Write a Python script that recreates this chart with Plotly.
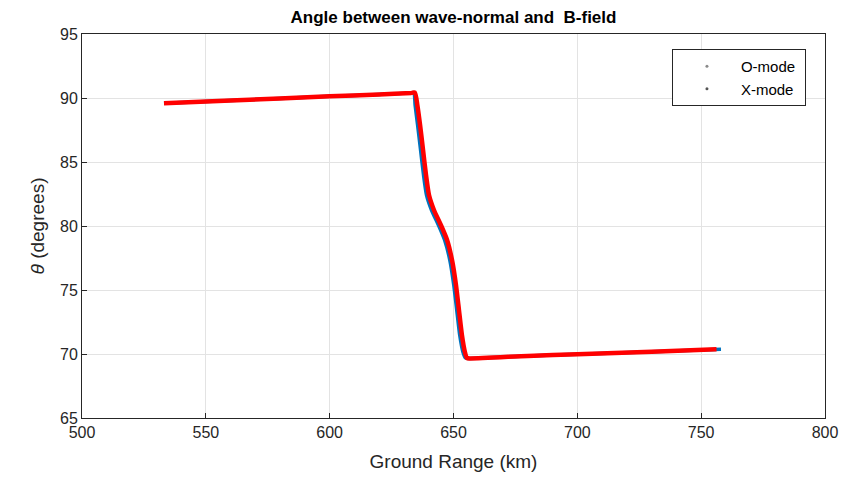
import plotly.graph_objects as go

# X-mode (red) ground range (km) and angle (deg)
xmode_range = [533.1, 560.0, 600.0, 620.0, 633.0, 634.4, 635.4, 636.5, 637.7, 638.9, 640.1,
               642.1, 644.9, 647.4, 649.4, 651.0, 652.2, 653.4, 654.6, 655.4,
               656.6, 680.0, 700.0, 730.0, 756.2]
xmode_theta = [89.59, 89.80, 90.13, 90.28, 90.40, 90.43, 89.45, 87.89, 85.94, 83.98, 82.42,
               81.25, 80.08, 78.91, 77.34, 75.39, 73.44, 71.48, 70.16, 69.69,
               69.65, 69.85, 69.98, 70.17, 70.37]

# O-mode (blue) ground range (km) and angle (deg)
omode_range = [533.1, 560.0, 600.0, 620.0, 633.0, 634.0, 634.5, 635.5, 636.7, 637.9, 639.1,
               641.1, 643.9, 646.4, 648.5, 650.1, 651.3, 652.5, 653.8, 654.8,
               656.0, 680.0, 700.0, 730.0, 758.0]
omode_theta = [89.59, 89.80, 90.13, 90.28, 90.40, 90.43, 89.45, 87.89, 85.94, 83.98, 82.42,
               81.25, 80.08, 78.91, 77.34, 75.39, 73.44, 71.48, 70.16, 69.69,
               69.65, 69.85, 69.98, 70.17, 70.38]

x_ticks = [500, 550, 600, 650, 700, 750, 800]
x_tick_labels = ["500", "550", "600", "650", "700", "750", "800"]
y_ticks = [65, 70, 75, 80, 85, 90, 95]
y_tick_labels = ["65", "70", "75", "80", "85", "90", "95"]

FONT = "Liberation Sans, Arial, sans-serif"

fig = go.Figure()
fig.add_trace(go.Scatter(x=omode_range, y=omode_theta, mode="lines",
                         line=dict(color="#0072BD", width=3.5, shape="spline", smoothing=0.6),
                         showlegend=False))
fig.add_trace(go.Scatter(x=xmode_range, y=xmode_theta, mode="lines",
                         line=dict(color="#FF0000", width=4.5, shape="spline", smoothing=0.6),
                         showlegend=False))
fig.add_trace(go.Scatter(x=[None], y=[None], mode="markers", name="O-mode\u00a0",
                         marker=dict(color="#8a8a8a", size=3)))
fig.add_trace(go.Scatter(x=[None], y=[None], mode="markers", name="X-mode\u00a0",
                         marker=dict(color="#555555", size=3)))

axis_common = dict(
    showgrid=True, gridcolor="#e3e3e3", gridwidth=1,
    showline=True, linecolor="#262626", linewidth=1, mirror=True,
    ticks="inside", ticklen=5, tickcolor="#262626",
    tickfont=dict(family=FONT, size=16, color="#262626"),
    zeroline=False,
)

# The page body adds an 8px offset, so margins are shifted accordingly
fig.update_layout(
    width=853, height=484,
    margin=dict(l=74, r=36, t=26, b=74),
    paper_bgcolor="white", plot_bgcolor="white",
    title=dict(text="<b>Angle between wave-normal and \u00a0B-field</b>",
               x=(74 + 817) / 2 / 853, xanchor="center",
               yref="container", y=1 - 3 / 484, yanchor="top", pad=dict(t=0, b=0),
               font=dict(family=FONT, size=17, color="black")),
    xaxis=dict(range=[500, 800], tickvals=x_ticks, ticktext=x_tick_labels,
               title=dict(text="Ground Range (km)", standoff=14,
                          font=dict(family=FONT, size=19, color="#262626")),
               **axis_common),
    yaxis=dict(range=[65, 95], tickvals=y_ticks, ticktext=y_tick_labels,
               title=dict(text="<i>θ</i> (degrees)", standoff=10,
                          font=dict(family=FONT, size=19, color="#262626")),
               **axis_common),
    legend=dict(x=0.794, y=0.961, xanchor="left", yanchor="top",
                bgcolor="white", bordercolor="#262626", borderwidth=1,
                font=dict(family=FONT, size=15, color="black"),
                itemwidth=58, tracegroupgap=0),
)

fig.write_html("out.html")
